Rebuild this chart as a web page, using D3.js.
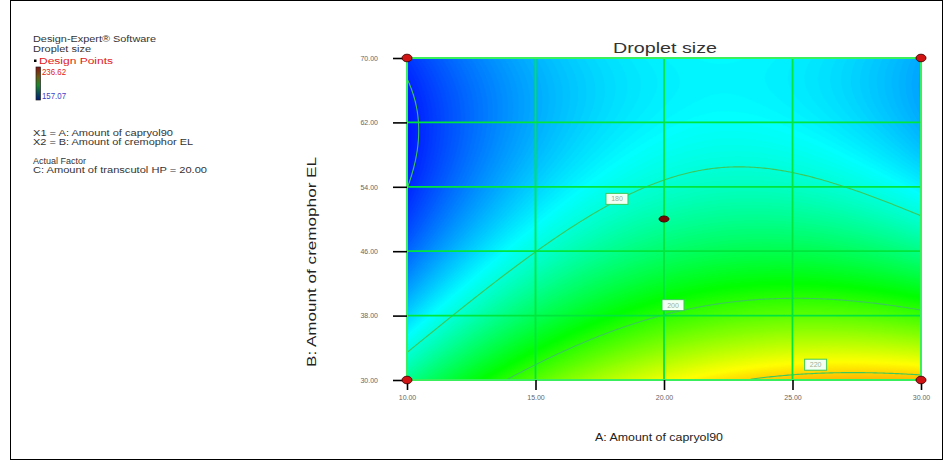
<!DOCTYPE html>
<html><head><meta charset="utf-8">
<script src="https://cdn.jsdelivr.net/npm/d3@7"></script>
<style>
body{margin:0;background:#fff}
svg{display:block}
text{font-family:"Liberation Sans",Arial,sans-serif}
</style>
</head><body>
<svg id="chart" width="946" height="461"></svg>
<script>
// ---------------- data ----------------
const aLevels = [10, 20, 30];            // A: Amount of capryol90
const bLevels = [30, 50, 70];            // B: Amount of cremophor EL
// predicted droplet size at the 3x3 factor nodes (rows: B = 30, 50, 70; cols: A = 10, 20, 30)
const dropletB30 = [185.7, 215.5, 221.75];
const dropletB50 = [161.9, 184.1, 180.5];
const dropletB70 = [161.2, 176.0, 170.25];
const xTickValues = [10, 15, 20, 25, 30];
const yTickValues = [30, 38, 46, 54, 62, 70];
const contourLevels = [160, 180, 200, 220];
const labelLevels = [180, 200, 220];
const labelA = [18.17, 20.35, 25.9];
const labelB = [52.5, 39.3, 31.9];
const designA = [10, 30, 10, 30, 20];
const designB = [70, 70, 30, 30, 50];
const responseMin = 157.07, responseMax = 236.62;
const legendLines = ["X1 = A: Amount of capryol90", "X2 = B: Amount of cremophor EL"];
const factorLines = ["Actual Factor", "C: Amount of transcutol HP = 20.00"];

const nodeRows = [dropletB30, dropletB50, dropletB70];

// ---------------- surface (quadratic response surface through the nodes) ----------------
function lag(t){ return [t*(t-1)/2, 1-t*t, t*(t+1)/2]; }
function surface(A,B){
  const a=(A-aLevels[1])/(aLevels[2]-aLevels[1]);
  const b=(B-bLevels[1])/(bLevels[2]-bLevels[1]);
  const La=lag(a), Lb=lag(b);
  let s=0;
  for(let j=0;j<3;j++) for(let i=0;i<3;i++) s+=Lb[j]*La[i]*nodeRows[j][i];
  return s;
}

const svg = d3.select("#chart");
const x = d3.scaleLinear().domain([10,30]).range([407,921]);
const y = d3.scaleLinear().domain([30,70]).range([380,58]);
const color = d3.scaleLinear()
  .domain(d3.range(5).map(k=>responseMin+k*(responseMax-responseMin)/4))
  .range(["#0000ff","#00ffff","#00ff00","#ffff00","#ff0000"]).clamp(true);

// outer frame
svg.append("rect").attr("x",10.5).attr("y",0.5).attr("width",932).attr("height",459)
  .attr("fill","none").attr("stroke","#000").attr("stroke-width",1);

// grid of the surface
const nx=257, ny=161;
const vals=new Array(nx*ny);
for(let j=0;j<ny;j++){
  const B=70-(j+0.5)/ny*40;
  for(let i=0;i<nx;i++){
    const A=10+(i+0.5)/nx*20;
    vals[j*nx+i]=surface(A,B);
  }
}
const proj=d3.geoTransform({point:function(gx,gy){
  this.stream.point(x(10+gx/nx*20), y(70-gy/ny*40));
}});
const path=d3.geoPath(proj);

const defs=svg.append("defs");
defs.append("clipPath").attr("id","plotClip").append("rect")
  .attr("x",x(10)).attr("y",y(70)).attr("width",x(30)-x(10)).attr("height",y(30)-y(70));

const plot=svg.append("g").attr("clip-path","url(#plotClip)");
const fillLevels=d3.range(150,240,0.4);
const fills=d3.contours().size([nx,ny]).thresholds(fillLevels)(vals);
plot.append("g").selectAll("path").data(fills).join("path")
  .attr("d",path).attr("fill",d=>color(d.value+0.2)).attr("stroke",d=>color(d.value+0.2)).attr("stroke-width",0.6);

// contour lines
const lines=d3.contours().size([nx,ny]).thresholds(contourLevels)(vals);
plot.append("g").selectAll("path").data(lines).join("path")
  .attr("d",path).attr("fill","none").attr("stroke","#3cc85a").attr("stroke-width",1.1);

// grid lines
const gridG=svg.append("g");
gridG.selectAll("line.vx").data(xTickValues).join("line")
  .attr("x1",d=>x(d)).attr("x2",d=>x(d)).attr("y1",y(30)).attr("y2",y(70))
  .attr("stroke","#00e63c").attr("stroke-width",1.8);
gridG.selectAll("line.hy").data(yTickValues).join("line")
  .attr("y1",d=>y(d)).attr("y2",d=>y(d)).attr("x1",x(10)).attr("x2",x(30))
  .attr("stroke","#00e63c").attr("stroke-width",1.8);
svg.append("rect").attr("x",x(10)).attr("y",y(70)).attr("width",x(30)-x(10)).attr("height",y(30)-y(70))
  .attr("fill","none").attr("stroke","#40f060").attr("stroke-width",1.8);

// contour labels
const lab=svg.append("g").selectAll("g").data(labelLevels).join("g")
  .attr("transform",(d,i)=>`translate(${x(labelA[i])},${y(labelB[i])})`);
lab.append("rect").attr("x",-11).attr("y",-5.5).attr("width",22).attr("height",11)
  .attr("fill","#f4fff4").attr("stroke","#3cc85a").attr("stroke-width",1);
lab.append("text").attr("text-anchor","middle").attr("dy","0.35em").attr("font-size",7)
  .attr("fill","#9ab09a").text(d=>d);

// axes
const xAxis=d3.axisBottom(x).tickValues(xTickValues).tickSize(10).tickFormat(d3.format(".2f"));
const gx=svg.append("g").attr("transform",`translate(0,${y(30)})`).call(xAxis);
gx.select(".domain").remove();
gx.selectAll(".tick line").attr("stroke","#000").attr("stroke-width",1.6);
gx.selectAll(".tick text").attr("font-size",7).attr("fill","#666").attr("y",15)
  .attr("font-family","'Liberation Sans',Arial,sans-serif");

const yAxis=d3.axisLeft(y).tickValues(yTickValues).tickSize(14).tickPadding(15).tickFormat(d3.format(".2f"));
const gy=svg.append("g").attr("transform",`translate(${x(10)},0)`).call(yAxis);
gy.select(".domain").remove();
gy.selectAll(".tick line").attr("stroke","#000").attr("stroke-width",1.6);
gy.selectAll(".tick text").attr("font-size",7).attr("fill","#666")
  .attr("font-family","'Liberation Sans',Arial,sans-serif");

// design points
svg.append("g").selectAll("ellipse").data(designA).join("ellipse")
  .attr("cx",(d,i)=>x(d)).attr("cy",(d,i)=>y(designB[i]))
  .attr("rx",5).attr("ry",(d,i)=>i===4?3:3.8)
  .attr("fill",(d,i)=>i===4?"#7a0505":"#d01414").attr("stroke","#400").attr("stroke-width",0.9);

// titles
svg.append("text").attr("x",665).attr("y",53).attr("text-anchor","middle")
  .attr("font-size",14).attr("fill","#333").attr("textLength",104).attr("lengthAdjust","spacingAndGlyphs")
  .text("Droplet size");
svg.append("text").attr("x",659).attr("y",441).attr("text-anchor","middle")
  .attr("font-size",10.5).attr("fill","#222").attr("textLength",128).attr("lengthAdjust","spacingAndGlyphs")
  .text("A: Amount of capryol90");
svg.append("text").attr("transform","translate(316,262) rotate(-90)").attr("text-anchor","middle")
  .attr("font-size",12.5).attr("fill","#222").attr("textLength",210).attr("lengthAdjust","spacingAndGlyphs")
  .text("B: Amount of cremophor EL");

// legend block
const leg=svg.append("g");
function lt(xx,yy,txt,len,fill){
  leg.append("text").attr("x",xx).attr("y",yy).attr("font-size",8.5).attr("fill",fill||"#333")
    .attr("textLength",len).attr("lengthAdjust","spacingAndGlyphs").text(txt);
}
lt(33,42,"Design-Expert\u00AE Software",123);
lt(33,52,"Droplet size",58);
leg.append("rect").attr("x",34).attr("y",59.5).attr("width",2.5).attr("height",2.5).attr("fill","#000");
lt(39,64,"Design Points",74,"#e02020");
const grad=defs.append("linearGradient").attr("id","legGrad").attr("x1",0).attr("y1",0).attr("x2",0).attr("y2",1);
[["0","#8a1010"],["0.3","#6a5a10"],["0.55","#1a8a2a"],["0.8","#0a4a5a"],["1","#001a7a"]]
  .forEach(s=>grad.append("stop").attr("offset",s[0]).attr("stop-color",s[1]));
leg.append("rect").attr("x",36).attr("y",67).attr("width",4.5).attr("height",33)
  .attr("fill","url(#legGrad)").attr("stroke","#222").attr("stroke-width",0.7);
lt(42,75,d3.format(".2f")(responseMax),24,"#e02020");
lt(42,99,d3.format(".2f")(responseMin),24,"#4040c8");
lt(33,136,legendLines[0],140);
lt(33,145,legendLines[1],160);
lt(33,164,factorLines[0],53);
lt(33,173,factorLines[1],174);
</script>
</body></html>
